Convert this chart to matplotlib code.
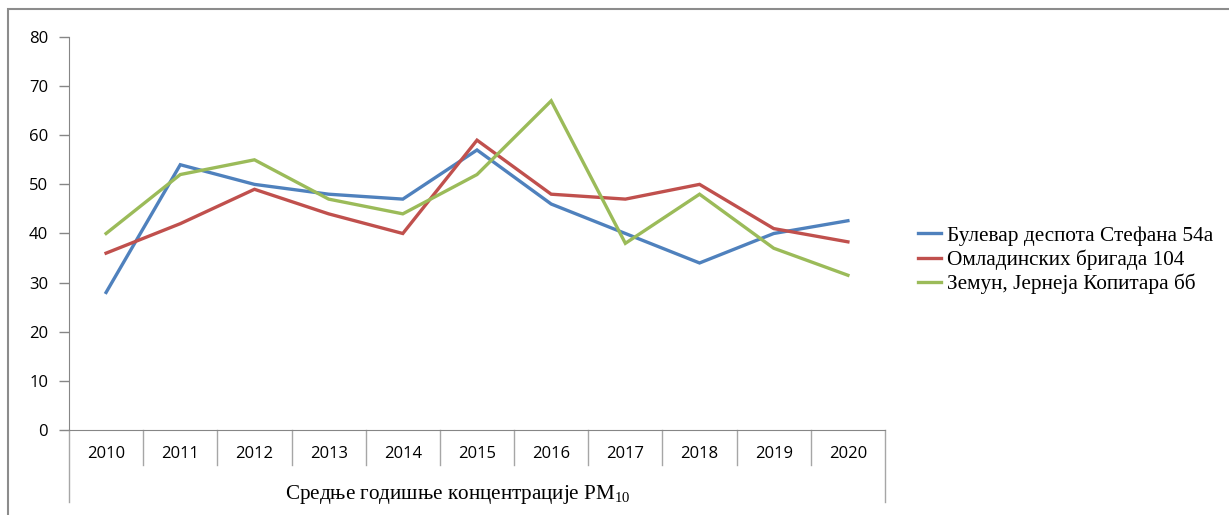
import matplotlib
matplotlib.use("Agg")
import matplotlib.pyplot as plt
from matplotlib.patches import Rectangle
import matplotlib.transforms as mtransforms

plt.rcParams["mathtext.fontset"] = "custom"
plt.rcParams["mathtext.rm"] = "Liberation Serif"
plt.rcParams["mathtext.it"] = "Liberation Serif:italic"

years = ["2010", "2011", "2012", "2013", "2014", "2015", "2016", "2017", "2018", "2019", "2020"]
bulevar = [28, 54, 50, 48, 47, 57, 46, 40, 34, 40, 42.6]
omladinskih = [36, 42, 49, 44, 40, 59, 48, 47, 50, 41, 38.3]
zemun = [40, 52, 55, 47, 44, 52, 67, 38, 48, 37, 31.5]
series_names = ["Булевар деспота Стефана 54а", "Омладинских бригада 104", "Земун, Јернеја Копитара бб"]
colors = ["#4F81BD", "#C0504D", "#9BBB59"]
yticks = [0, 10, 20, 30, 40, 50, 60, 70, 80]
xlabel = "Средње годишње концентрације PM$_{\\mathrm{10}}$"

W, H = 1229, 515
fig = plt.figure(figsize=(W / 100, H / 100), dpi=100)
fig.patch.set_facecolor("white")

# outer chart frame
fig.patches.append(Rectangle((8 / W, -0.1), 1.2, (H - 9) / H + 0.1, transform=fig.transFigure,
                             fill=False, edgecolor="#8C8C8C", linewidth=1.5))

ax = fig.add_axes([69 / W, 85 / H, (885 - 69) / W, (430 - 37) / H])
x = list(range(len(years)))
for vals, name, c in zip([bulevar, omladinskih, zemun], series_names, colors):
    ax.plot(x, vals, color=c, linewidth=2.4, label=name, solid_joinstyle="miter")

ax.set_xlim(-0.5, len(years) - 0.5)
ax.set_ylim(0, 80)
ax.set_yticks(yticks)
ax.set_yticklabels([str(v) for v in yticks], fontfamily="Open Sans", fontsize=12)
ax.tick_params(axis="y", direction="out", length=7, width=1, color="#868686", pad=8)
ax.set_xticks([])
for s in ["top", "right"]:
    ax.spines[s].set_visible(False)
ax.spines["left"].set_color("#868686")
ax.spines["bottom"].set_color("#868686")

trans = mtransforms.blended_transform_factory(ax.transData, ax.transAxes)
ah = 430 - 37
for i in range(len(years) + 1):
    xb = i - 0.5
    bottom = -72 / ah if i in (0, len(years)) else -35 / ah
    ax.plot([xb, xb], [0, bottom], transform=trans, color="#A6A6A6", linewidth=1, clip_on=False)
for i, yr in enumerate(years):
    ax.text(i, -24 / ah, yr, transform=trans, ha="center", va="center",
            fontfamily="Open Sans", fontsize=12)
fig.text(458 / W, 1 - 494 / H, xlabel, ha="center", va="center",
         fontfamily="Liberation Serif", fontsize=15.2)

leg = fig.legend(loc="center left", bbox_to_anchor=(909 / W, 1 - 260 / H),
                 bbox_transform=fig.transFigure, frameon=False, borderaxespad=0,
                 prop={"family": "Liberation Serif", "size": 15.3},
                 handlelength=1.1, handletextpad=0.3, labelspacing=0.17)

fig.savefig("out.png", dpi=100, facecolor="white")
